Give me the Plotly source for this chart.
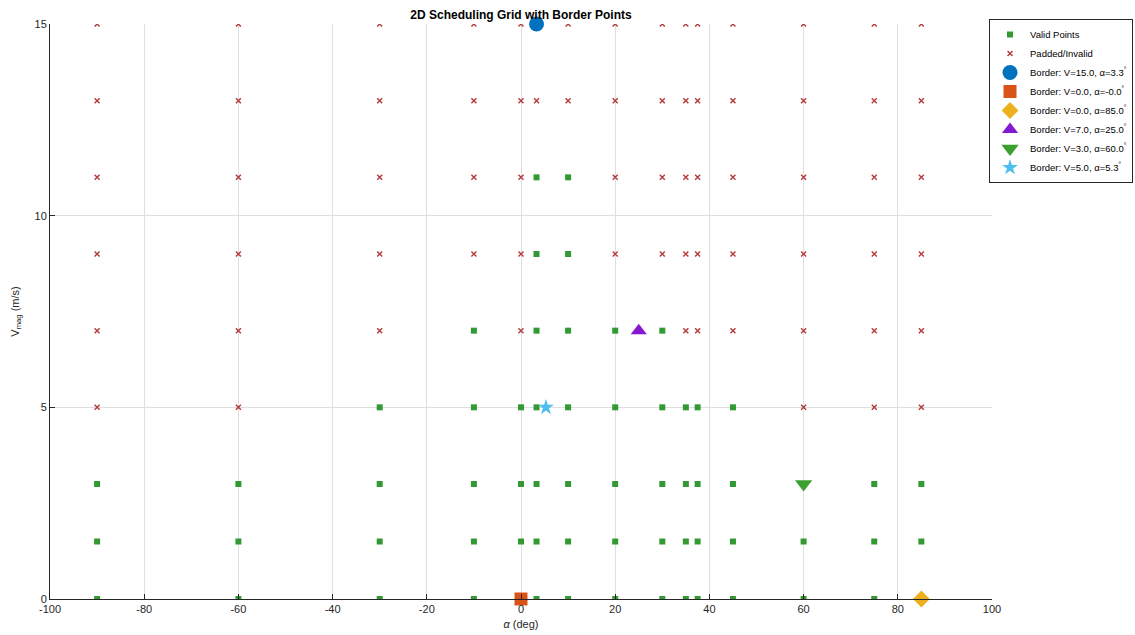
import plotly.graph_objects as go

# Scheduling grid axes
alpha_grid = [-90, -60, -30, -10, 0, 3.3, 10, 20, 30, 35, 37.5, 45, 60, 75, 85]
v_grid = [0, 1.5, 3, 5, 7, 9, 11, 13, 15]

# Validity mask: one row per V value (bottom to top), one column per alpha value
valid_mask = [
    [1, 1, 1, 1, 1, 1, 1, 1, 1, 1, 1, 1, 1, 1, 1],  # V = 0
    [1, 1, 1, 1, 1, 1, 1, 1, 1, 1, 1, 1, 1, 1, 1],  # V = 1.5
    [1, 1, 1, 1, 1, 1, 1, 1, 1, 1, 1, 1, 1, 1, 1],  # V = 3
    [0, 0, 1, 1, 1, 1, 1, 1, 1, 1, 1, 1, 0, 0, 0],  # V = 5
    [0, 0, 0, 1, 0, 1, 1, 1, 1, 0, 0, 0, 0, 0, 0],  # V = 7
    [0, 0, 0, 0, 0, 1, 1, 0, 0, 0, 0, 0, 0, 0, 0],  # V = 9
    [0, 0, 0, 0, 0, 1, 1, 0, 0, 0, 0, 0, 0, 0, 0],  # V = 11
    [0, 0, 0, 0, 0, 0, 0, 0, 0, 0, 0, 0, 0, 0, 0],  # V = 13
    [0, 0, 0, 0, 0, 0, 0, 0, 0, 0, 0, 0, 0, 0, 0],  # V = 15
]

# Border points
border_v = [15.0, 0.0, 0.0, 7.0, 3.0, 5.0]
border_alpha = [3.3, -0.0, 85.0, 25.0, 60.0, 5.3]
border_symbols = ["circle", "square", "diamond", "triangle-up", "triangle-down", "star"]
border_sizes = [15, 13, 13, 14, 15, 12]
border_colors = ["#0072BD", "#D95319", "#EDB120", "#8419D0", "#3BA02F", "#4DBEEE"]

x_ticks = [-100, -80, -60, -40, -20, 0, 20, 40, 60, 80, 100]
x_tick_text = ["-100", "-80", "-60", "-40", "-20", "0", "20", "40", "60", "80", "100"]
y_ticks = [0, 5, 10, 15]

valid_x, valid_y, invalid_x, invalid_y = [], [], [], []
for i, v in enumerate(v_grid):
    for j, a in enumerate(alpha_grid):
        if valid_mask[i][j]:
            valid_x.append(a)
            valid_y.append(v)
        else:
            invalid_x.append(a)
            invalid_y.append(v)

fig = go.Figure()
fig.add_trace(go.Scatter(
    x=valid_x, y=valid_y, mode="markers", name="Valid Points",
    marker=dict(symbol="square", size=6, color="#339933", line=dict(width=0)),
))
fig.add_trace(go.Scatter(
    x=invalid_x, y=invalid_y, mode="markers", name="Padded/Invalid",
    marker=dict(symbol="x-thin-open", size=5, color="#B23A3A",
                line=dict(width=1.4, color="#B23A3A")),
))
for v, a, sym, sz, col in zip(border_v, border_alpha, border_symbols, border_sizes, border_colors):
    fig.add_trace(go.Scatter(
        x=[a], y=[v], mode="markers",
        name=f"Border: V={v:.1f}, α={a:.1f}<sup>°</sup>",
        marker=dict(symbol=sym, size=sz, color=col, line=dict(width=0)),
        cliponaxis=False,
    ))

axis_color = "#262626"
fig.update_layout(
    width=1135, height=635,
    margin=dict(l=50, r=143, t=24, b=36, autoexpand=False),
    paper_bgcolor="white", plot_bgcolor="white",
    font=dict(family="Liberation Sans, Arial, sans-serif", size=11, color=axis_color),
    title=dict(text="<b>2D Scheduling Grid with Border Points</b>",
               x=(50 + 992) / 2 / 1135, xanchor="center", y=1 - 15 / 635, yanchor="middle",
               font=dict(size=12, color="#000000")),
    showlegend=True,
    legend=dict(x=1.1497, y=1.0087, xanchor="right", yanchor="top",
                bgcolor="white", bordercolor=axis_color, borderwidth=1,
                font=dict(size=9.5, color="#000000"), tracegroupgap=0,
                itemwidth=30),
    xaxis=dict(range=[-100, 100], tickvals=x_ticks, ticktext=x_tick_text,
               ticks="inside", ticklen=5,
               tickcolor=axis_color, showline=True, linecolor=axis_color, linewidth=1,
               showgrid=True, gridcolor="#DFDFDF", gridwidth=1, zeroline=False,
               title=dict(text="<i>α</i> (deg)", standoff=6, font=dict(size=11))),
    yaxis=dict(range=[0, 15], tickvals=y_ticks, ticks="inside", ticklen=5,
               tickcolor=axis_color, showline=True, linecolor=axis_color, linewidth=1,
               showgrid=True, gridcolor="#DFDFDF", gridwidth=1, zeroline=False,
               title=dict(text="V<sub>mag</sub> (m/s)", standoff=12, font=dict(size=11))),
)

fig.write_html("out.html")
